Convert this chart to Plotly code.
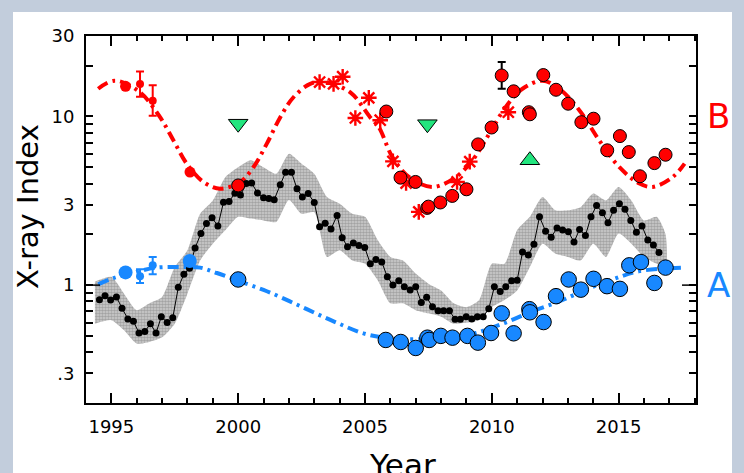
import numpy as np
import plotly.graph_objects as go

# ---------------- data ----------------
# grey cloud (daily values) envelope
cloud_year = [1994.35, 1995.0, 1995.5, 1996.0, 1996.5, 1997.0, 1997.5, 1998.0, 1998.5, 1999.0,
              1999.5, 2000.0, 2000.5, 2001.0, 2001.5, 2002.0, 2002.5, 2003.0, 2003.5, 2004.0,
              2004.5, 2005.0, 2005.5, 2006.0, 2006.5, 2007.0, 2007.5, 2008.0, 2008.5, 2009.0,
              2009.5, 2010.0, 2010.5, 2011.0, 2011.5, 2012.0, 2012.5, 2013.0, 2013.5, 2014.0,
              2014.5, 2015.0, 2015.5, 2016.0, 2016.5, 2016.85]
cloud_lo = [0.59, 0.62, 0.54, 0.45, 0.46, 0.49, 0.59, 0.89, 1.4, 1.76,
            2.12, 2.54, 2.48, 2.42, 2.37, 3.2, 2.65, 2.7, 1.47, 1.61,
            1.4, 1.34, 1.07, 0.78, 0.78, 0.71, 0.68, 0.65, 0.59, 0.60,
            0.62, 0.74, 0.815, 0.93, 1.28, 1.76, 1.54, 1.47, 1.4, 1.76,
            1.47, 2.02, 1.76, 1.47, 1.34, 1.3]
cloud_hi = [1.05, 1.12, 0.89, 0.71, 0.78, 0.85, 1.28, 1.61, 2.65, 3.18,
            4.38, 5.0, 5.5, 5.0, 4.57, 6.0, 5.24, 4.57, 3.33, 3.04,
            2.65, 2.54, 1.85, 1.47, 1.4, 1.17, 1.02, 0.93, 0.78, 0.74,
            0.815, 1.34, 1.34, 2.12, 2.54, 3.33, 2.78, 2.78, 2.9, 3.49,
            3.18, 3.82, 3.18, 2.42, 2.54, 2.0]

# black 3-rotation averages
avg_year = [1994.53, 1994.75, 1994.97, 1995.20, 1995.42, 1995.65, 1995.87, 1996.09, 1996.32, 1996.54,
            1996.76, 1996.97, 1997.20, 1997.42, 1997.64, 1997.86, 1998.08, 1998.30, 1998.53, 1998.75,
            1998.97, 1999.20, 1999.42, 1999.64, 1999.87, 2000.09, 2000.32, 2000.53, 2000.76, 2001.00,
            2001.21, 2001.42, 2001.66, 2001.87, 2002.10, 2002.32, 2002.53, 2002.76, 2003.00, 2003.21,
            2003.43, 2003.66, 2003.90, 2004.10, 2004.31, 2004.54, 2004.76, 2004.99, 2005.21, 2005.43,
            2005.66, 2005.88, 2006.10, 2006.33, 2006.55, 2006.78, 2007.00, 2007.22, 2007.43, 2007.66,
            2007.88, 2008.10, 2008.33, 2008.55, 2008.76, 2008.99, 2009.21, 2009.43, 2009.66, 2009.88,
            2010.10, 2010.33, 2010.55, 2010.78, 2011.00, 2011.21, 2011.44, 2011.66, 2011.88, 2012.12,
            2012.34, 2012.57, 2012.79, 2013.02, 2013.24, 2013.46, 2013.69, 2013.91, 2014.13, 2014.36,
            2014.58, 2014.80, 2015.03, 2015.25, 2015.48, 2015.70, 2015.92, 2016.15, 2016.37, 2016.59]
avg_val = [0.82, 0.865, 0.815, 0.85, 0.73, 0.63, 0.61, 0.52, 0.53, 0.59,
           0.52, 0.65, 0.60, 0.64, 0.97, 1.16, 1.26, 1.66, 2.02, 2.32,
           2.51, 2.24, 3.10, 3.13, 3.50, 3.42, 4.00, 4.03, 3.52, 3.30,
           3.26, 3.21, 3.94, 4.67, 4.67, 3.73, 3.33, 3.49, 3.09, 2.22,
           2.33, 2.15, 2.59, 1.91, 1.69, 1.78, 1.72, 1.67, 1.34, 1.42,
           1.37, 1.12, 1.00, 1.06, 0.977, 0.934, 0.977, 0.79, 0.846, 0.744,
           0.705, 0.705, 0.705, 0.627, 0.627, 0.65, 0.63, 0.65, 0.65, 0.724,
           0.977, 0.917, 0.977, 1.06, 1.07, 1.57, 1.51, 1.75, 2.54, 2.09,
           1.92, 2.18, 2.12, 2.07, 1.80, 2.14, 1.97, 2.54, 2.97, 2.69,
           2.34, 2.78, 3.04, 2.82, 2.42, 2.06, 2.24, 1.85, 1.73, 1.56]

# star B cycle curve
b_curve_year = [1994.48, 1995.14, 1996.13, 1996.92, 1997.45, 1997.97, 1998.63, 1999.29, 2000.08, 2000.60,
                2001.13, 2001.66, 2002.18, 2002.84, 2003.43, 2004.42, 2005.20, 2005.55, 2006.08, 2006.74,
                2007.66, 2008.58, 2009.24, 2009.90, 2010.55, 2011.21, 2012.00, 2012.66, 2013.45, 2014.24,
                2015.03, 2015.82, 2016.34, 2017.13, 2017.60]
b_curve_val = [14.6, 16.3, 13.9, 9.9, 7.2, 5.25, 4.09, 3.73, 4.09, 5.0,
               6.9, 9.9, 13.0, 15.6, 16.0, 13.9, 9.9, 8.6, 5.75, 4.37,
               3.82, 4.37, 5.5, 7.9, 11.4, 14.6, 16.3, 14.6, 10.9, 7.2,
               5.0, 4.0, 3.82, 4.37, 5.25]

# star A cycle curve
a_curve_year = [1994.48, 1995.08, 1996.00, 1996.79, 1997.71, 1998.50, 1999.16, 2000.00, 2001.13, 2002.45,
                2003.76, 2005.08, 2006.30, 2007.50, 2008.50, 2009.37, 2010.55, 2011.60, 2012.66, 2013.71,
                2014.76, 2015.82, 2017.53]
a_curve_val = [1.01, 1.10, 1.20, 1.27, 1.28, 1.27, 1.18, 1.06, 0.92, 0.75,
               0.61, 0.51, 0.48, 0.48, 0.49, 0.52, 0.60, 0.70, 0.80, 0.94,
               1.08, 1.21, 1.27]

# star B measurements
b_plain_year = [1995.56, 1998.10]
b_plain_val = [15.1, 4.68]
b_err_year = [1996.13, 1996.63]
b_err_val = [15.6, 12.4]
b_err_hi = [18.5, 15.3]
b_err_lo = [13.1, 10.1]
b_circ_year = [2000.00, 2005.84, 2006.40, 2006.99, 2007.45, 2007.50, 2007.97, 2008.44, 2009.00, 2009.46,
               2009.99, 2010.39, 2010.86, 2011.46, 2011.50, 2012.03, 2012.53, 2013.01, 2013.53, 2014.01,
               2014.55, 2015.05, 2015.40, 2015.84, 2016.41, 2016.85]
b_circ_val = [3.9, 10.7, 4.34, 4.09, 2.87, 2.92, 3.09, 3.38, 3.70, 6.83,
              8.6, 17.5, 14.1, 10.6, 10.3, 17.6, 14.4, 11.9, 9.25, 9.7,
              6.3, 7.65, 6.15, 4.42, 5.29, 5.93]
b_star_year = [2003.21, 2003.76, 2004.12, 2004.62, 2005.15, 2005.60, 2006.10, 2006.62, 2007.12, 2008.63,
               2009.13, 2010.65]
b_star_val = [16.0, 15.6, 17.2, 9.8, 12.9, 9.5, 5.42, 4.03, 2.72, 4.09,
              5.4, 10.6]
blk_err_year = [2010.39]
blk_err_val = [17.5]
blk_err_hi = [21.0]
blk_err_lo = [14.6]

# star A measurements
a_plain_year = [1995.56, 1998.09]
a_plain_val = [1.19, 1.39]
a_err_year = [1996.13, 1996.63]
a_err_val = [1.13, 1.31]
a_err_hi = [1.24, 1.47]
a_err_lo = [1.03, 1.16]
a_circ_year = [2000.00, 2005.82, 2006.41, 2007.00, 2007.46, 2007.53, 2007.99, 2008.45, 2009.04, 2009.45,
               2009.97, 2010.39, 2010.86, 2011.48, 2011.50, 2012.04, 2012.53, 2013.03, 2013.51, 2014.01,
               2014.54, 2015.05, 2015.42, 2015.88, 2016.41, 2016.85]
a_circ_val = [1.08, 0.473, 0.46, 0.424, 0.488, 0.473, 0.50, 0.488, 0.50, 0.456,
              0.52, 0.68, 0.518, 0.72, 0.69, 0.604, 0.86, 1.08, 0.94, 1.09,
              0.986, 0.95, 1.31, 1.37, 1.03, 1.27]

# green triangles
tri_down_year = [2000.0, 2007.46]
tri_down_val = [9.06, 9.0]
tri_up_year = [2011.5]
tri_up_val = [5.5]

y_tick_vals = [0.3, 1, 3, 10, 30]
y_tick_text = ['.3', '1', '3', '10', '30']
x_tick_vals = [1995, 2000, 2005, 2010, 2015]

# ---------------- styling ----------------
RED = '#ff0000'
BLUE = '#1888ff'
GREEN = '#22e57e'
FONT = 'DejaVu Sans'
DASHDOT = '11px,5px,3px,5px'

fig = go.Figure()

# grey cloud
fig.add_trace(go.Scatter(
    x=cloud_year + cloud_year[::-1], y=cloud_hi + cloud_lo[::-1],
    fill='toself', mode='lines', line=dict(width=0, shape='spline', smoothing=0.6),
    fillcolor='rgba(150,150,150,0.5)',
    fillpattern=dict(shape='.', fgcolor='#7a7a7a', bgcolor='rgba(165,165,165,0.55)',
                     size=3, solidity=0.6),
    hoverinfo='skip', showlegend=False))

# cycle curves
fig.add_trace(go.Scatter(x=b_curve_year, y=b_curve_val, mode='lines',
                         line=dict(color=RED, width=4, dash=DASHDOT, shape='spline'), showlegend=False))
fig.add_trace(go.Scatter(x=a_curve_year, y=a_curve_val, mode='lines',
                         line=dict(color=BLUE, width=4, dash=DASHDOT, shape='spline'), showlegend=False))

# black averages
fig.add_trace(go.Scatter(x=avg_year, y=avg_val, mode='lines+markers',
                         line=dict(color='black', width=1),
                         marker=dict(color='black', size=7), showlegend=False))

# error-bar points
def err_trace(xs, ys, his, los, color, msize, ecolor):
    return go.Scatter(
        x=xs, y=ys, mode='markers',
        marker=dict(color=color, size=msize),
        error_y=dict(type='data', symmetric=False,
                     array=[h - v for h, v in zip(his, ys)],
                     arrayminus=[v - l for v, l in zip(ys, los)],
                     color=ecolor, thickness=2, width=4),
        showlegend=False)

fig.add_trace(err_trace(b_err_year, b_err_val, b_err_hi, b_err_lo, RED, 8, RED))
fig.add_trace(err_trace(a_err_year, a_err_val, a_err_hi, a_err_lo, BLUE, 8, BLUE))
fig.add_trace(err_trace(blk_err_year, blk_err_val, blk_err_hi, blk_err_lo, 'rgba(0,0,0,0)', 2, 'black'))

# plain circles
fig.add_trace(go.Scatter(x=b_plain_year, y=b_plain_val, mode='markers',
                         marker=dict(color=RED, size=11), showlegend=False))
fig.add_trace(go.Scatter(x=a_plain_year, y=a_plain_val, mode='markers',
                         marker=dict(color=BLUE, size=14), showlegend=False))

# asterisks
fig.add_trace(go.Scatter(x=b_star_year, y=b_star_val, mode='markers',
                         marker=dict(symbol='asterisk-open', size=13, color=RED,
                                     line=dict(color=RED, width=2.4)), showlegend=False))

# outlined circles
fig.add_trace(go.Scatter(x=b_circ_year, y=b_circ_val, mode='markers',
                         marker=dict(color=RED, size=13, line=dict(color='black', width=1)),
                         showlegend=False))
fig.add_trace(go.Scatter(x=a_circ_year, y=a_circ_val, mode='markers',
                         marker=dict(color=BLUE, size=15.5, line=dict(color='black', width=1)),
                         showlegend=False))

# triangles
fig.add_trace(go.Scatter(x=tri_down_year, y=tri_down_val, mode='markers',
                         marker=dict(symbol='triangle-down', color=GREEN, size=17,
                                     line=dict(color='black', width=1)), showlegend=False))
fig.add_trace(go.Scatter(x=tri_up_year, y=tri_up_val, mode='markers',
                         marker=dict(symbol='triangle-up', color=GREEN, size=17,
                                     line=dict(color='black', width=1)), showlegend=False))

# sun symbol
fig.add_trace(go.Scatter(x=[2018.79], y=[3.0], mode='markers', cliponaxis=False,
                         marker=dict(symbol='circle-open-dot', size=20, color='black',
                                     line=dict(color='black', width=2)), showlegend=False))

# ---------------- layout ----------------
W, H = 744, 473
L, R, T, B = 86, 48, 36, 70
pw, ph = W - L - R, H - T - B

def px_x(p):
    return (p - L) / pw

def px_y(p):
    return (H - B - p) / ph

shapes = [
    dict(type='rect', xref='paper', yref='paper', x0=px_x(13), x1=px_x(732), y0=px_y(490), y1=px_y(12),
         fillcolor='white', line=dict(width=0), layer='below'),
]
# long decade ticks
for lv in [0, 1]:
    shapes.append(dict(type='line', xref='paper', yref='y', x0=0, x1=14 / pw, y0=lv, y1=lv,
                       line=dict(color='black', width=1.5)))
    shapes.append(dict(type='line', xref='paper', yref='y', x0=1 - 14 / pw, x1=1, y0=lv, y1=lv,
                       line=dict(color='black', width=1.5)))

minor_y = [0.2, 0.4, 0.5, 0.6, 0.7, 0.8, 0.9, 2, 4, 5, 6, 7, 8, 9, 20]

fig.update_layout(
    width=W, height=H,
    margin=dict(l=L, r=R, t=T, b=B),
    paper_bgcolor='#c2cddc', plot_bgcolor='white',
    font=dict(family=FONT, color='black', size=18),
    shapes=shapes,
    xaxis=dict(range=[1994.0, 2018.05], showline=True, linewidth=2, linecolor='black', mirror='ticks',
               ticks='inside', ticklen=10, tickwidth=1.5, tickcolor='black',
               tickvals=x_tick_vals, ticktext=[str(v) for v in x_tick_vals],
               tickfont=dict(size=18), showgrid=False, zeroline=False, ticklabelstandoff=6,
               minor=dict(ticks='inside', dtick=1, tick0=1994, ticklen=5, tickwidth=1.5,
                          tickcolor='black', showgrid=False)),
    yaxis=dict(type='log', range=[np.log10(0.2), np.log10(30)], showline=True, linewidth=2,
               linecolor='black', mirror='ticks', ticks='inside', ticklen=7, tickwidth=1.5,
               tickcolor='black', tickvals=y_tick_vals, ticktext=y_tick_text,
               tickfont=dict(size=18), showgrid=False, zeroline=False, ticklabelstandoff=6,
               minor=dict(ticks='inside', tickmode='array', tickvals=minor_y, ticklen=7,
                          tickwidth=1.5, tickcolor='black', showgrid=False)),
    annotations=[
        dict(text='X-ray Index', xref='paper', yref='paper', x=px_x(28), y=px_y(207),
             textangle=-90, showarrow=False, xanchor='center', yanchor='middle',
             font=dict(size=29, family=FONT)),
        dict(text='Year', xref='paper', yref='paper', x=px_x(402), y=px_y(445),
             showarrow=False, xanchor='center', yanchor='top', font=dict(size=31, family=FONT)),
        dict(text='B', xref='paper', yref='y', x=px_x(718), y=1.0, showarrow=False,
             xanchor='center', yanchor='middle', font=dict(size=34, color=RED, family=FONT)),
        dict(text='A', xref='paper', yref='y', x=px_x(718), y=0.0, showarrow=False,
             xanchor='center', yanchor='middle', font=dict(size=34, color=BLUE, family=FONT)),
    ],
)

fig.write_html('out.html')
